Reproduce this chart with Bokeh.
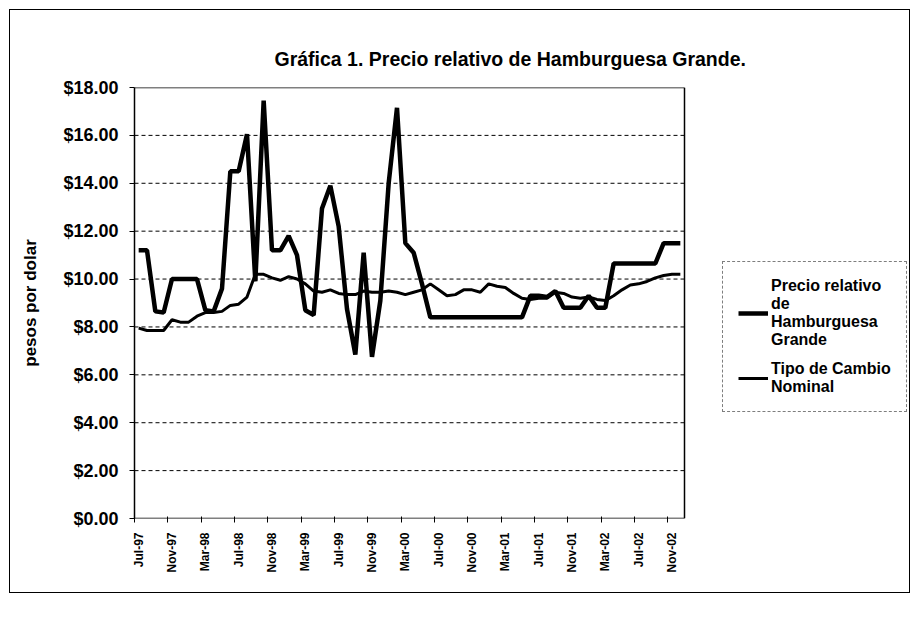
from math import pi
from bokeh.plotting import figure
from bokeh.models import (Range1d, FixedTicker, NumeralTickFormatter, Legend,
                          LegendItem, Title, ColumnDataSource)
from bokeh.embed import file_html
from bokeh.resources import INLINE

# ---------------- data ----------------
months = [
    "Jul-97", "Aug-97", "Sep-97", "Oct-97", "Nov-97", "Dec-97",
    "Jan-98", "Feb-98", "Mar-98", "Apr-98", "May-98", "Jun-98",
    "Jul-98", "Aug-98", "Sep-98", "Oct-98", "Nov-98", "Dec-98",
    "Jan-99", "Feb-99", "Mar-99", "Apr-99", "May-99", "Jun-99",
    "Jul-99", "Aug-99", "Sep-99", "Oct-99", "Nov-99", "Dec-99",
    "Jan-00", "Feb-00", "Mar-00", "Apr-00", "May-00", "Jun-00",
    "Jul-00", "Aug-00", "Sep-00", "Oct-00", "Nov-00", "Dec-00",
    "Jan-01", "Feb-01", "Mar-01", "Apr-01", "May-01", "Jun-01",
    "Jul-01", "Aug-01", "Sep-01", "Oct-01", "Nov-01", "Dec-01",
    "Jan-02", "Feb-02", "Mar-02", "Apr-02", "May-02", "Jun-02",
    "Jul-02", "Aug-02", "Sep-02", "Oct-02", "Nov-02", "Dec-02",
]

precio_relativo = [
    11.2, 11.2, 8.65, 8.6, 10.0, 10.0, 10.0, 10.0, 8.7, 8.65, 9.6, 14.5,
    14.5, 16.05, 9.9, 17.45, 11.2, 11.2, 11.8, 11.0, 8.7, 8.5, 12.95, 13.9,
    12.2, 8.75, 6.85, 11.1, 6.75, 9.1, 14.0, 17.15, 11.5, 11.1, 9.8, 8.4,
    8.4, 8.4, 8.4, 8.4, 8.4, 8.4, 8.4, 8.4, 8.4, 8.4, 8.4, 9.3,
    9.3, 9.25, 9.5, 8.8, 8.8, 8.8, 9.3, 8.8, 8.8, 10.65, 10.65, 10.65,
    10.65, 10.65, 10.65, 11.5, 11.5, 11.5,
]

tipo_de_cambio = [
    7.95, 7.85, 7.85, 7.85, 8.3, 8.2, 8.2, 8.45, 8.6, 8.6, 8.65, 8.9,
    8.95, 9.25, 10.2, 10.2, 10.05, 9.95, 10.1, 10.0, 9.8, 9.5, 9.45, 9.55,
    9.4, 9.35, 9.35, 9.5, 9.45, 9.45, 9.5, 9.45, 9.35, 9.45, 9.55, 9.8,
    9.55, 9.3, 9.35, 9.55, 9.55, 9.45, 9.8, 9.7, 9.65, 9.4, 9.2, 9.15,
    9.2, 9.2, 9.45, 9.4, 9.25, 9.2, 9.25, 9.15, 9.1, 9.3, 9.55, 9.75,
    9.8, 9.9, 10.05, 10.15, 10.2, 10.2,
]

y_ticks = [0, 2, 4, 6, 8, 10, 12, 14, 16, 18]
label_step = 4

title_text = "Gráfica 1.  Precio relativo de Hamburguesa Grande."
y_label = "pesos por dolar"
series_names = ["Precio relativo\nde\nHamburguesa\nGrande",
                "Tipo de Cambio\nNominal"]

FONT = "Liberation Sans"

# ---------------- geometry ----------------
n = len(months)
x_lo, x_hi = -0.5, n - 0.5          # category band of the data area
y_lo, y_hi = y_ticks[0], y_ticks[-1]

W, H = 901, 584                      # canvas (inside the 1px chart border)
LEFT, TOP, BOTTOM = 124, 77, 76      # borders around the frame
PLOT_W = 550                         # width of the data area in px
frame_w = W - LEFT
x_end = x_lo + (x_hi - x_lo) * frame_w / PLOT_W   # frame also hosts legend

x = list(range(n))
src = ColumnDataSource(dict(x=x, month=months,
                            precio=precio_relativo, tipo=tipo_de_cambio))

p = figure(width=W, height=H, output_backend="svg", toolbar_location=None,
           x_range=Range1d(x_lo, x_end), y_range=Range1d(y_lo, y_hi),
           min_border_left=LEFT, min_border_right=0,
           min_border_top=TOP, min_border_bottom=BOTTOM)
p.background_fill_color = "white"
p.border_fill_color = "white"
p.outline_line_color = None
p.styles = {"margin": "9px 0 0 9px", "border": "1px solid black"}

# grid lines and the top / right / bottom edges of the plot area
grid_src = ColumnDataSource(dict(y=y_ticks[1:-1]))
p.segment(x0=x_lo, x1=x_hi, y0="y", y1="y", source=grid_src,
          line_color="black", line_width=1, line_dash="4 3")
edge_src = ColumnDataSource(dict(x0=[x_lo, x_hi, x_lo], x1=[x_hi, x_hi, x_hi],
                                 y0=[y_hi, y_lo, y_lo], y1=[y_hi, y_hi, y_lo]))
p.segment(x0="x0", x1="x1", y0="y0", y1="y1", source=edge_src,
          line_color="black", line_width=1.5)

r1 = p.line("x", "precio", source=src, line_color="black", line_width=4.5)
r2 = p.line("x", "tipo", source=src, line_color="black", line_width=3)

# title
p.title = Title(text=title_text, align="left", offset=140, standoff=36,
                text_font=FONT, text_font_style="bold",
                text_font_size="19.5px", text_color="black")

# x axis
label_idx = list(range(0, n, label_step))
p.xaxis.ticker = FixedTicker(ticks=label_idx,
                             minor_ticks=[i - 0.5 for i in label_idx])
p.xaxis.major_label_overrides = {i: months[i] for i in label_idx}
p.xaxis.major_label_orientation = pi / 2
p.xaxis.major_tick_line_color = None
p.xaxis.minor_tick_line_color = "black"
p.xaxis.minor_tick_in = 2
p.xaxis.minor_tick_out = 4
p.xaxis.major_label_standoff = 8
p.xaxis.major_label_text_font = FONT
p.xaxis.major_label_text_font_style = "bold"
p.xaxis.major_label_text_font_size = "12px"
p.xaxis.major_label_text_color = "black"
p.xaxis.axis_line_color = None

# y axis
p.yaxis.ticker = FixedTicker(ticks=y_ticks)
p.yaxis.formatter = NumeralTickFormatter(format="$0.00")
p.yaxis.minor_tick_line_color = None
p.yaxis.major_tick_in = 0
p.yaxis.major_tick_out = 5
p.yaxis.major_tick_line_color = "black"
p.yaxis.major_label_standoff = 11
p.yaxis.major_label_text_font = FONT
p.yaxis.major_label_text_font_style = "bold"
p.yaxis.major_label_text_font_size = "18px"
p.yaxis.major_label_text_color = "black"
p.yaxis.axis_line_color = "black"
p.yaxis.axis_line_width = 1.5
p.yaxis.axis_label = y_label
p.yaxis.axis_label_text_font = FONT
p.yaxis.axis_label_text_font_style = "bold"
p.yaxis.axis_label_text_font_size = "17px"
p.yaxis.axis_label_text_color = "black"
p.yaxis.axis_label_standoff = 20

p.xgrid.visible = False
p.ygrid.visible = False

# legend (inside the widened frame, right of the data area)
legend = Legend(items=[LegendItem(label=series_names[0], renderers=[r1]),
                       LegendItem(label=series_names[1], renderers=[r2])],
                location=(588, 106), orientation="vertical",
                glyph_width=30, glyph_height=18, label_standoff=3,
                spacing=11, padding=15, margin=0,
                border_line_color="black", border_line_width=1,
                border_line_dash="4 2", background_fill_color="white",
                label_text_font=FONT, label_text_font_style="bold",
                label_text_font_size="16px", label_text_color="black")
p.add_layout(legend, "center")

open("out.html", "w").write(file_html(p, INLINE))
